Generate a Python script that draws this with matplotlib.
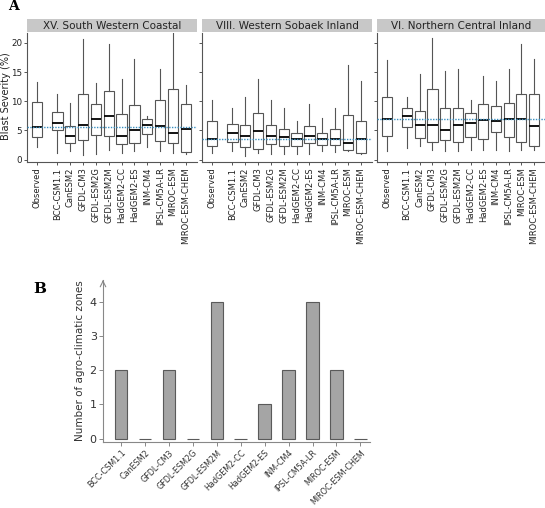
import numpy as np
import matplotlib.pyplot as plt
from matplotlib.patches import Rectangle

# box statistics: (whisker low, Q1, median, Q3, whisker high)
models = ['BCC-CSM1.1', 'CanESM2', 'GFDL-CM3', 'GFDL-ESM2G', 'GFDL-ESM2M',
          'HadGEM2-CC', 'HadGEM2-ES', 'INM-CM4', 'IPSL-CM5A-LR',
          'MIROC-ESM', 'MIROC-ESM-CHEM']
box_labels = ['Observed'] + models
zone_names = ['XV. South Western Coastal', 'VIII. Western Sobaek Inland',
              'VI. Northern Central Inland']

south_western = [
    (2.2, 3.9, 5.6, 9.8, 13.3),
    (1.2, 5.0, 6.3, 8.2, 11.2),
    (1.4, 2.8, 4.1, 5.7, 9.7),
    (0.8, 3.4, 6.0, 11.2, 20.7),
    (1.0, 4.2, 7.0, 9.6, 13.2),
    (1.6, 4.1, 7.5, 11.7, 19.8),
    (1.2, 2.7, 4.0, 7.9, 13.8),
    (1.4, 2.8, 5.0, 9.3, 17.3),
    (2.2, 4.4, 6.0, 7.0, 7.5),
    (1.5, 3.2, 5.8, 10.3, 15.6),
    (1.2, 2.8, 4.6, 12.1, 21.8),
    (1.0, 1.3, 5.3, 9.5, 12.8),
]
western_sobaek = [
    (1.2, 2.3, 3.6, 6.6, 10.2),
    (1.4, 3.1, 4.6, 6.1, 8.8),
    (0.7, 2.1, 4.0, 5.9, 10.7),
    (1.1, 1.8, 4.9, 8.0, 13.8),
    (1.0, 2.6, 4.0, 5.9, 10.3),
    (0.9, 2.4, 3.9, 5.3, 8.8),
    (1.0, 2.4, 3.6, 4.5, 6.7),
    (1.0, 2.8, 4.1, 5.8, 9.6),
    (1.4, 2.5, 3.5, 4.5, 7.1),
    (1.3, 2.5, 3.5, 5.3, 8.8),
    (1.5, 1.7, 2.9, 7.7, 16.2),
    (1.0, 1.2, 3.5, 6.7, 13.5),
]
northern_central = [
    (1.5, 4.1, 7.0, 10.7, 17.0),
    (2.0, 5.6, 7.4, 8.8, 10.7),
    (2.4, 3.7, 6.0, 8.4, 14.6),
    (1.6, 3.1, 6.0, 12.1, 20.8),
    (1.4, 3.4, 5.1, 8.8, 15.2),
    (1.5, 3.1, 5.9, 8.8, 15.6),
    (1.7, 3.9, 6.3, 8.0, 10.2),
    (1.7, 3.5, 6.8, 9.6, 14.4),
    (1.7, 4.7, 6.7, 9.2, 13.5),
    (1.4, 3.9, 6.9, 9.7, 15.6),
    (1.6, 3.1, 7.0, 11.2, 19.8),
    (1.6, 2.3, 5.8, 11.2, 17.3),
]
zone_stats = [south_western, western_sobaek, northern_central]

# panel B
zone_counts = [2, 0, 2, 0, 4, 0, 1, 2, 4, 2, 0]

fig = plt.figure(figsize=(5.45, 5.08), dpi=100)
W, H = 545.0, 508.0

def px_axes(x0, y0, x1, y1):
    return fig.add_axes([x0 / W, 1 - y1 / H, (x1 - x0) / W, (y1 - y0) / H])

positions = [0] + [1.57 + i for i in range(len(models))]
panel_x = [(27, 197), (202, 372), (377, 545)]

for k, (stats_list, name) in enumerate(zip(zone_stats, zone_names)):
    x0, x1 = panel_x[k]
    ax = px_axes(x0, 33, x1, 162)
    bxp = []
    for lo, q1, med, q3, hi in stats_list:
        bxp.append(dict(whislo=lo, q1=q1, med=med, q3=q3, whishi=hi, fliers=[]))
    ax.bxp(bxp, positions=positions, widths=0.8, showcaps=False,
           showfliers=False, patch_artist=True,
           boxprops=dict(facecolor='white', edgecolor='#555555', linewidth=0.8),
           whiskerprops=dict(color='#555555', linewidth=0.8),
           medianprops=dict(color='black', linewidth=1.3))
    ax.axhline(stats_list[0][2], color='#3a8fc0', linestyle=(0, (1, 1)),
               linewidth=1.0, zorder=5)
    ax.set_xlim(-0.8, positions[-1] + 0.87)
    ax.set_ylim(-0.4, 21.7)
    ax.set_yticks([0, 5, 10, 15, 20])
    ax.set_xticks(positions)
    ax.set_xticklabels(box_labels, rotation=90, fontsize=6, color='#222222')
    for s in ['top', 'right']:
        ax.spines[s].set_visible(False)
    for s in ['left', 'bottom']:
        ax.spines[s].set_color('#555555')
        ax.spines[s].set_linewidth(0.8)
    ax.tick_params(length=2.5, width=0.7, color='#555555', pad=1.5)
    if k == 0:
        ax.tick_params(axis='y', labelsize=6.3, labelcolor='#222222', pad=1)
    else:
        ax.set_yticklabels([])
    # strip header
    sx = px_axes(x0, 19, x1, 32)
    sx.add_patch(Rectangle((0, 0), 1, 1, facecolor='#c8c8c8', edgecolor='none',
                           transform=sx.transAxes))
    sx.text(0.5, 0.45, name, ha='center', va='center', fontsize=7.5,
            color='#222222', transform=sx.transAxes)
    sx.set_axis_off()

fig.text(6 / W, 1 - 96 / H, 'Blast Severity (%)', rotation=90, fontsize=7,
         color='#222222', ha='center', va='center')

fig.text(8 / W, 1 - 6 / H, 'A', fontsize=10, fontweight='bold',
         family='DejaVu Serif', ha='left', va='center')
fig.text(33 / W, 1 - 289 / H, 'B', fontsize=11, fontweight='bold',
         family='DejaVu Serif', ha='left', va='center')

# panel B
axb = px_axes(103, 280, 370, 442)
xb = np.arange(len(models))
axb.bar(xb, zone_counts, width=0.52, color='#a5a5a5', edgecolor='#5a5a5a',
        linewidth=0.8)
axb.set_xlim(-0.75, len(models) - 0.6)
axb.set_ylim(-0.1, 4.65)
axb.set_yticks([0, 1, 2, 3, 4])
axb.set_xticks(xb)
axb.set_xticklabels(models, rotation=45, ha='right', rotation_mode='anchor',
                    fontsize=5.8, color='#333333')
axb.tick_params(axis='y', labelsize=8, labelcolor='#333333')
axb.tick_params(length=3, width=0.7, color='#888888', pad=1.5)
for s in ['top', 'right']:
    axb.spines[s].set_visible(False)
for s in ['left', 'bottom']:
    axb.spines[s].set_color('#888888')
    axb.spines[s].set_linewidth(0.8)
axb.set_ylabel('Number of agro-climatic zones', fontsize=7.5, color='#333333',
               labelpad=3)
axb.annotate('', xy=(0, 1.0), xytext=(0, 0.97), xycoords='axes fraction',
             arrowprops=dict(arrowstyle='->', color='#888888', lw=0.8))

fig.savefig('out.png', dpi=100)
